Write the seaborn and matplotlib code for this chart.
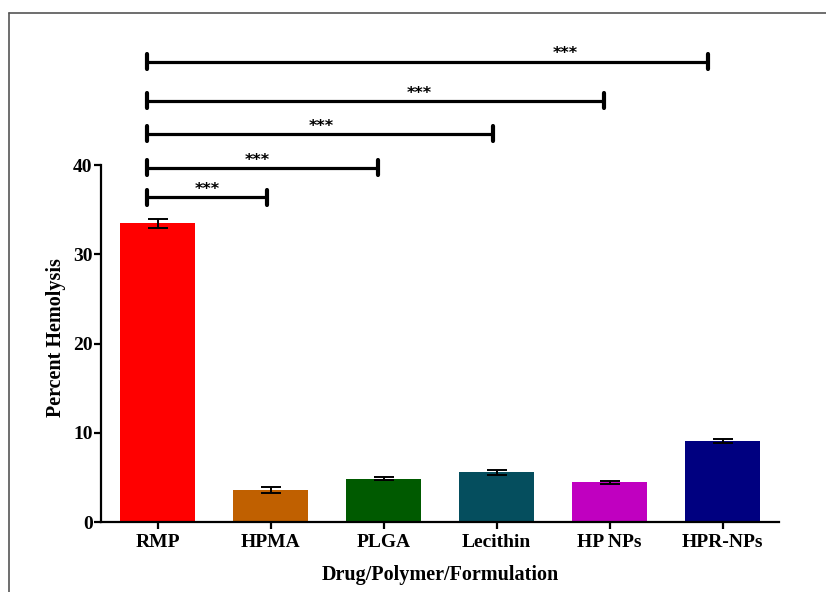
import matplotlib
matplotlib.use("Agg")
import matplotlib.pyplot as plt
from matplotlib.lines import Line2D
import seaborn as sns
import pandas as pd

# data
groups = ["RMP", "HPMA", "PLGA", "Lecithin", "HP NPs", "HPR-NPs"]
hemolysis = [33.5, 3.6, 4.85, 5.6, 4.45, 9.1]
sem = [0.5, 0.3, 0.15, 0.28, 0.17, 0.25]
bar_colors = ["#FF0000", "#C06000", "#005A00", "#054E5E", "#C000C0", "#000080"]

# significance brackets: RMP vs each group
compare_to = ["HPMA", "PLGA", "Lecithin", "HP NPs", "HPR-NPs"]
bracket_y = [36.4, 39.7, 43.5, 47.2, 51.6]
stars = ["***", "***", "***", "***", "***"]

sns.set_style("ticks")
plt.rcParams["font.family"] = ["Liberation Serif", "DejaVu Serif"]
plt.rcParams["font.weight"] = "bold"
for key in ("text.color", "axes.labelcolor", "xtick.color", "ytick.color",
            "axes.edgecolor"):
    plt.rcParams[key] = "black"

df = pd.DataFrame({"group": groups, "value": hemolysis})

fig = plt.figure(figsize=(8.26, 5.92), dpi=100)
ax = fig.add_axes([0.1223, 0.1182, 0.8208, 0.799])

sns.barplot(data=df, x="group", y="value", hue="group", palette=bar_colors,
            order=groups, width=0.67, legend=False, ax=ax, saturation=1,
            edgecolor="none", errorbar=None)
ax.errorbar(range(len(groups)), hemolysis, yerr=sem, fmt="none",
            ecolor="black", elinewidth=1.4, capsize=7, capthick=1.4, zorder=3)

# brackets (start a bit left of RMP, stop a bit short of the compared bar)
start = -0.09
end_trim = [0.03, 0.05, 0.03, 0.05, 0.13]
star_x = [0.44, 0.885, 1.45, 2.32, 3.61]
for name, yb, s, sx, trim in zip(compare_to, bracket_y, stars, star_x, end_trim):
    end = groups.index(name) - trim
    ax.plot([start, end], [yb, yb], color="black", lw=2.3,
            solid_capstyle="butt", clip_on=False)
    for xe in (start, end):
        ax.plot([xe, xe], [yb - 0.85, yb + 0.85], color="black", lw=3,
                solid_capstyle="round", clip_on=False)
    ax.text(sx, yb + 0.35, s, ha="center", va="baseline", fontsize=11.5,
            fontweight="bold", family="DejaVu Sans")

ax.set_xlim(-0.5, 5.5)
ax.set_ylim(0, 53)
ax.set_yticks([0, 10, 20, 30, 40])
ax.spines["left"].set_bounds(0, 40)
ax.spines["top"].set_visible(False)
ax.spines["right"].set_visible(False)
for sp in ("left", "bottom"):
    ax.spines[sp].set_linewidth(1.6)
ax.tick_params(axis="both", direction="out", length=5, width=1.6,
               labelsize=14, colors="black")
ax.tick_params(axis="y", pad=1)
for lab in ax.get_xticklabels() + ax.get_yticklabels():
    lab.set_fontweight("bold")

ax.set_xlabel("Drug/Polymer/Formulation", fontsize=14.5, fontweight="bold",
              labelpad=10)
ax.set_ylabel("Percent Hemolysis", fontsize=14.5, fontweight="bold")
ax.yaxis.set_label_coords(-0.052, 0.39)

# partial frame around the figure
fig.add_artist(Line2D([9 / 826, 9 / 826], [0, 1 - 13 / 592], color="#555555",
                      lw=1.2, transform=fig.transFigure))
fig.add_artist(Line2D([9 / 826, 1], [1 - 13 / 592, 1 - 13 / 592],
                      color="#555555", lw=1.2, transform=fig.transFigure))

fig.savefig("out.png", dpi=100)
